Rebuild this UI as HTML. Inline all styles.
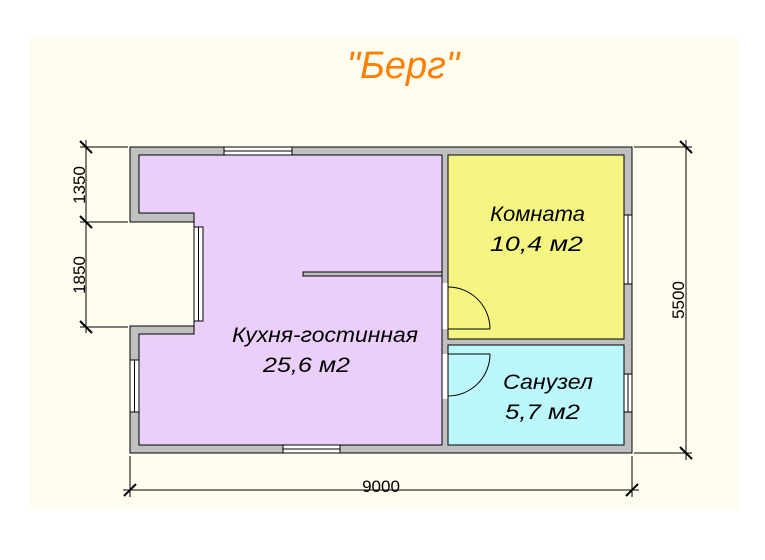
<!DOCTYPE html>
<html><head><meta charset="utf-8"><style>
html,body{margin:0;padding:0;background:#fff;}
svg{display:block;}
text{font-family:"Liberation Sans",sans-serif;}
</style></head><body>
<svg width="765" height="560" viewBox="0 0 765 560" xmlns="http://www.w3.org/2000/svg">
<rect x="0" y="0" width="765" height="560" fill="#fff"/>
<rect x="30" y="38" width="710" height="472" fill="#FFFDF0"/>
<text x="403" y="78" font-size="38" font-style="italic" fill="#FF7F00" text-anchor="middle">"Берг"</text>
<g stroke="#000" stroke-width="1">
<polygon points="130,147 632,147 632,453 130,453 130,326 203,326 203,222 130,222" fill="#C0C0C0"/>
<polygon points="139,155 442,155 442,445 139,445 139,334 194,334 194,213 139,213" fill="#EBCFFB"/>
<rect x="448" y="155" width="176" height="184" fill="#F5F582"/>
<rect x="448" y="345" width="176" height="100" fill="#BBF7FC"/>
<rect x="303" y="272" width="139" height="4" fill="#C0C0C0"/>
<rect x="224" y="147" width="68" height="8" fill="#fff"/>
<line x1="224" y1="151" x2="292" y2="151"/>
<rect x="283" y="445" width="57" height="8" fill="#fff"/>
<line x1="283" y1="449" x2="340" y2="449"/>
<rect x="194" y="227" width="9" height="94" fill="#fff"/>
<line x1="198.5" y1="227" x2="198.5" y2="321"/>
<rect x="130" y="360" width="9" height="52" fill="#fff"/>
<line x1="134.5" y1="360" x2="134.5" y2="412"/>
<rect x="624" y="215" width="8" height="69" fill="#fff"/>
<line x1="628" y1="215" x2="628" y2="284"/>
<rect x="624" y="374" width="8" height="38" fill="#fff"/>
<line x1="628" y1="374" x2="628" y2="412"/>
</g>
<rect x="442.5" y="283" width="5" height="46" fill="#fff"/>
<rect x="442.5" y="354" width="5" height="45" fill="#fff"/>
<g stroke="#000" stroke-width="1" fill="none">
<line x1="448" y1="329" x2="490" y2="329"/>
<path d="M448,287 A42,42 0 0 1 490,329"/>
<line x1="448" y1="354" x2="490" y2="354"/>
<path d="M490,354 A42,42 0 0 1 448,396"/>
<line x1="86" y1="140" x2="86" y2="333"/>
<line x1="80" y1="147" x2="128" y2="147"/>
<line x1="80" y1="222" x2="128" y2="222"/>
<line x1="80" y1="327" x2="128" y2="327"/>
<line x1="686" y1="140" x2="686" y2="460"/>
<line x1="634" y1="147" x2="692" y2="147"/>
<line x1="634" y1="453" x2="692" y2="453"/>
<line x1="123" y1="490" x2="639" y2="490"/>
<line x1="130" y1="456" x2="130" y2="497"/>
<line x1="632" y1="456" x2="632" y2="497"/>
</g>
<g stroke="#000" stroke-width="2">
<line x1="80" y1="141" x2="92" y2="153"/>
<line x1="80" y1="216" x2="92" y2="228"/>
<line x1="80" y1="321" x2="92" y2="333"/>
<line x1="680" y1="141" x2="692" y2="153"/>
<line x1="680" y1="447" x2="692" y2="459"/>
<line x1="124" y1="496" x2="136" y2="484"/>
<line x1="626" y1="496" x2="638" y2="484"/>
</g>
<text x="381" y="492" font-size="17" text-anchor="middle">9000</text>
<text transform="translate(85,185) rotate(-90)" font-size="17" text-anchor="middle">1350</text>
<text transform="translate(85,275) rotate(-90)" font-size="17" text-anchor="middle">1850</text>
<text transform="translate(684,300) rotate(-90)" font-size="17" text-anchor="middle">5500</text>
<g font-size="21" font-style="italic" fill="#000">
<text x="232" y="342" textLength="186" lengthAdjust="spacingAndGlyphs">Кухня-гостинная</text>
<text x="263" y="372" textLength="87" lengthAdjust="spacingAndGlyphs">25,6 м2</text>
<text x="490" y="221" textLength="95" lengthAdjust="spacingAndGlyphs">Комната</text>
<text x="490" y="251" textLength="93" lengthAdjust="spacingAndGlyphs">10,4 м2</text>
<text x="503" y="389" textLength="90" lengthAdjust="spacingAndGlyphs">Санузел</text>
<text x="505" y="419" textLength="75" lengthAdjust="spacingAndGlyphs">5,7 м2</text>
</g>
</svg>
</body></html>
